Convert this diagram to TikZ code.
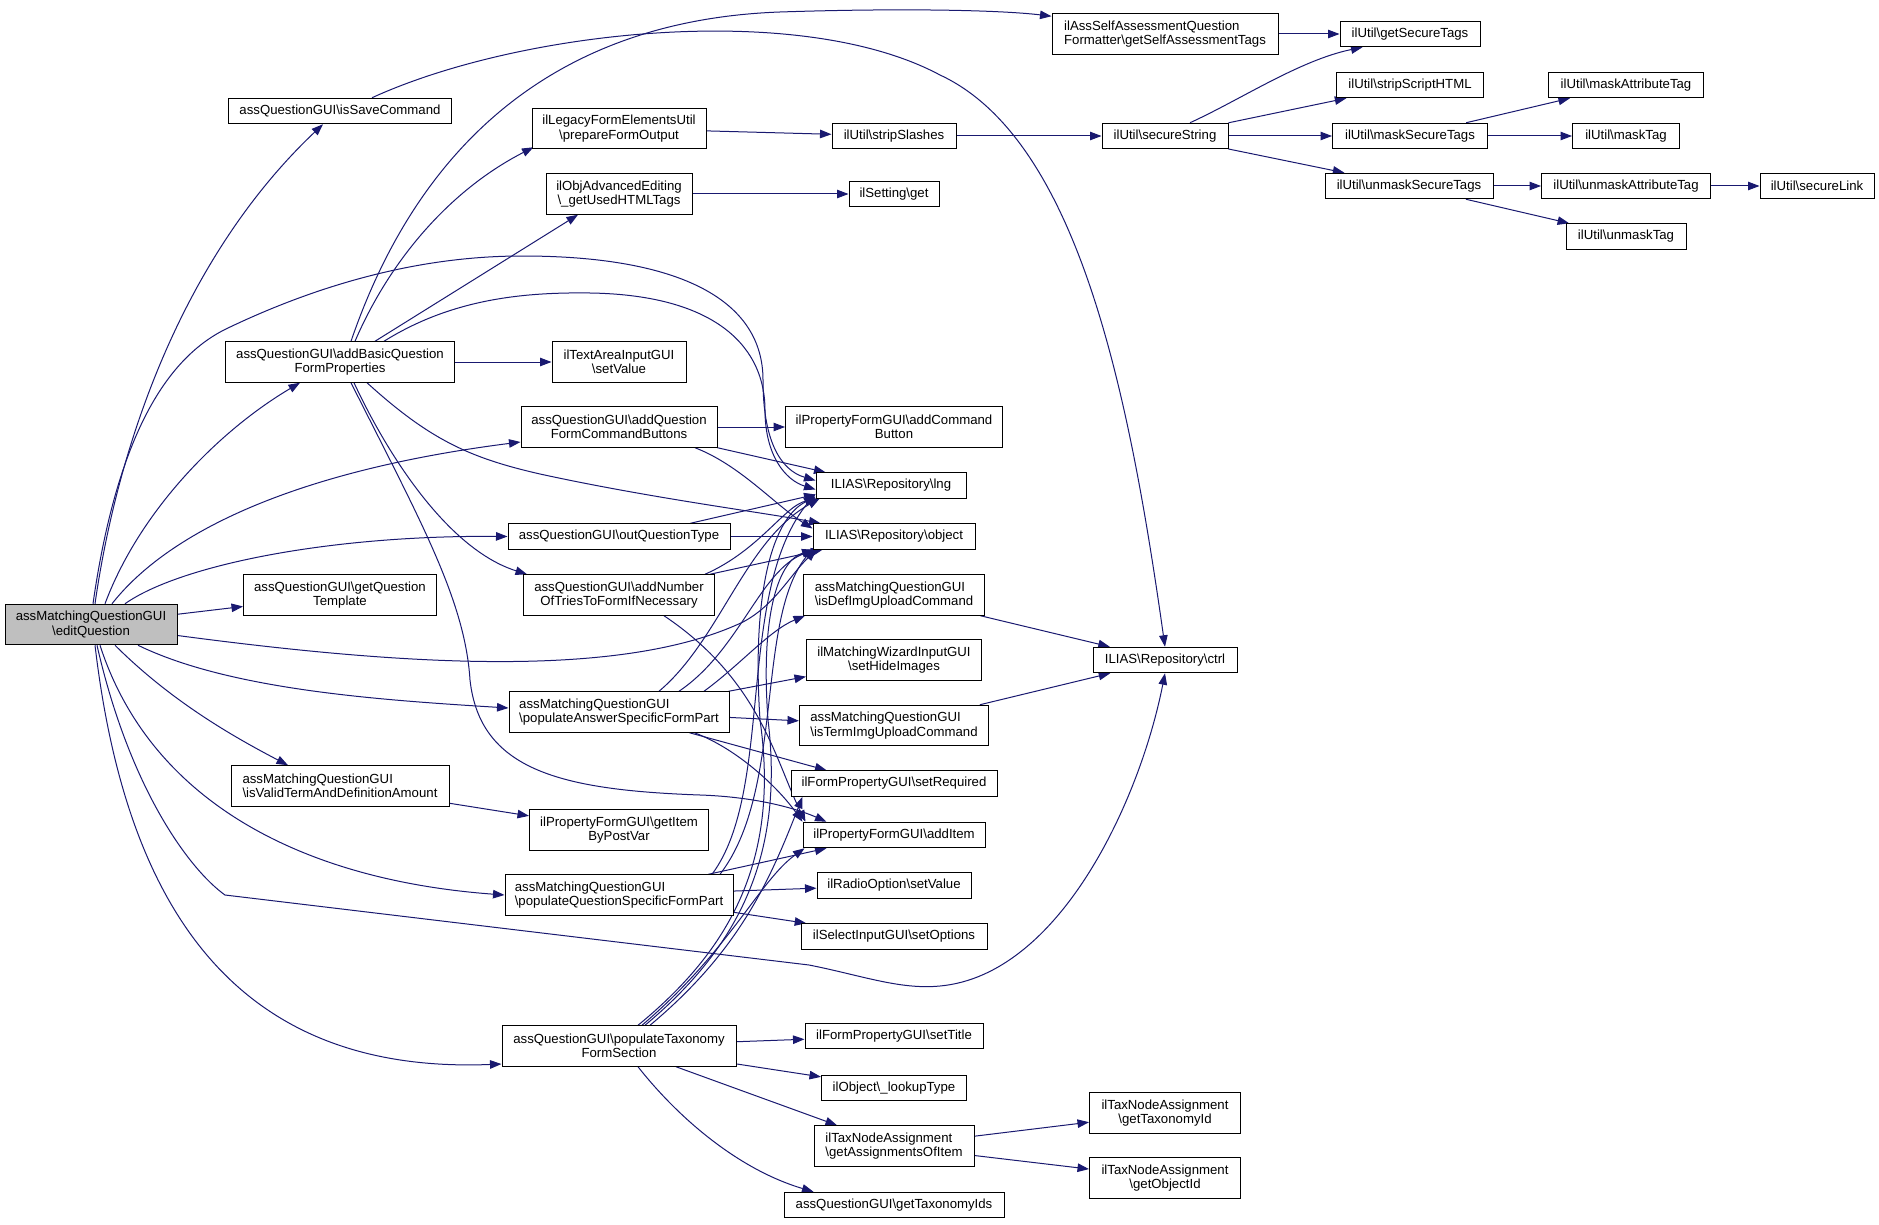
\documentclass[tikz,border=0pt]{standalone}
\usepackage{fontspec}
\setmainfont{Liberation Sans}
\usetikzlibrary{arrows.meta,calc}
\pgfdeclarelayer{background}
\pgfsetlayers{background,main}
\definecolor{edgeblue}{RGB}{25,25,112}
\definecolor{nodegrey}{RGB}{191,191,191}
\newcommand{\bsl}{\textbackslash}
\begin{document}
\begin{tikzpicture}[x=1pt,y=-1pt,
  box/.style={draw=black,line width=1pt,fill=white,inner sep=0pt,align=center,font=\fontsize{13.2}{14.5}\selectfont},
  b1/.style={box,minimum height=25.5pt},
  b2/.style={box,minimum height=40.5pt},
  wd/.style={minimum width=#1pt},
  e/.style={draw=edgeblue,line width=1pt,-{Triangle[length=11.5pt,width=8.5pt]}}]
\useasboundingbox (0,0) rectangle (1879,1225);
% nodes
\node[b2,wd=172,fill=nodegrey] (E) at (91,624.5) {assMatchingQuestionGUI\\\bsl editQuestion};
\node[b1,wd=223] (S) at (340,111) {assQuestionGUI\bsl isSaveCommand};
\node[b2,wd=229] (B) at (340,362) {assQuestionGUI\bsl addBasicQuestion\\FormProperties};
\node[b2,wd=193] (G) at (340,595) {assQuestionGUI\bsl getQuestion\\Template};
\node[b2,wd=218,align=left] (V) at (340,786) {assMatchingQuestionGUI\\\bsl isValidTermAndDefinitionAmount};
\node[b2,wd=174] (P) at (619,128.5) {ilLegacyFormElementsUtil\\\bsl prepareFormOutput};
\node[b2,wd=146] (H) at (619,194) {ilObjAdvancedEditing\\\bsl\_getUsedHTMLTags};
\node[b2,wd=134] (TA) at (619,362) {ilTextAreaInputGUI\\\bsl setValue};
\node[b2,wd=196] (C) at (619,427) {assQuestionGUI\bsl addQuestion\\FormCommandButtons};
\node[b1,wd=222] (O) at (619,536.5) {assQuestionGUI\bsl outQuestionType};
\node[b2,wd=191] (N) at (619,595) {assQuestionGUI\bsl addNumber\\OfTriesToFormIfNecessary};
\node[b2,wd=220,align=left] (A) at (619,712) {assMatchingQuestionGUI\\\bsl populateAnswerSpecificFormPart};
\node[b2,wd=179] (GI) at (619,830) {ilPropertyFormGUI\bsl getItem\\ByPostVar};
\node[b2,wd=228,align=left] (Q) at (619,895) {assMatchingQuestionGUI\\\bsl populateQuestionSpecificFormPart};
\node[b2,wd=234] (T) at (619,1046) {assQuestionGUI\bsl populateTaxonomy\\FormSection};
\node[b2,wd=226,align=left] (SA) at (1165,34) {ilAssSelfAssessmentQuestion\\Formatter\bsl getSelfAssessmentTags};
\node[b1,wd=124] (SS) at (894,136) {ilUtil\bsl stripSlashes};
\node[b1,wd=90] (SG) at (894,194) {ilSetting\bsl get};
\node[b2,wd=217] (ACB) at (894,427) {ilPropertyFormGUI\bsl addCommand\\Button};
\node[b1,wd=150] (LNG) at (891,485.5) {ILIAS\bsl Repository\bsl lng};
\node[b1,wd=162] (OBJ) at (894,536.5) {ILIAS\bsl Repository\bsl object};
\node[b2,wd=181,align=left] (DI) at (894,595) {assMatchingQuestionGUI\\\bsl isDefImgUploadCommand};
\node[b2,wd=175] (HI) at (894,660) {ilMatchingWizardInputGUI\\\bsl setHideImages};
\node[b2,wd=189,align=left] (TI) at (894,725.5) {assMatchingQuestionGUI\\\bsl isTermImgUploadCommand};
\node[b1,wd=206] (SR) at (894,783.5) {ilFormPropertyGUI\bsl setRequired};
\node[b1,wd=182] (AI) at (894,835) {ilPropertyFormGUI\bsl addItem};
\node[b1,wd=154] (RV) at (894,885.5) {ilRadioOption\bsl setValue};
\node[b1,wd=186] (SO) at (894,936.5) {ilSelectInputGUI\bsl setOptions};
\node[b1,wd=178] (ST) at (894,1036) {ilFormPropertyGUI\bsl setTitle};
\node[b1,wd=145] (LT) at (894,1088) {ilObject\bsl\_lookupType};
\node[b2,wd=160,align=left] (GA) at (894,1146) {ilTaxNodeAssignment\\\bsl getAssignmentsOfItem};
\node[b1,wd=220] (GT) at (894,1205) {assQuestionGUI\bsl getTaxonomyIds};
\node[b1,wd=144] (CTRL) at (1165,660) {ILIAS\bsl Repository\bsl ctrl};
\node[b2,wd=151] (GTI) at (1165,1113) {ilTaxNodeAssignment\\\bsl getTaxonomyId};
\node[b2,wd=151] (GO) at (1165,1178) {ilTaxNodeAssignment\\\bsl getObjectId};
\node[b1,wd=126] (SST) at (1165,136) {ilUtil\bsl secureString};
\node[b1,wd=140] (GST) at (1410,34) {ilUtil\bsl getSecureTags};
\node[b1,wd=147] (SSH) at (1410,85) {ilUtil\bsl stripScriptHTML};
\node[b1,wd=155] (MST) at (1410,136) {ilUtil\bsl maskSecureTags};
\node[b1,wd=168] (UST) at (1409,186) {ilUtil\bsl unmaskSecureTags};
\node[b1,wd=155] (MAT) at (1626,85) {ilUtil\bsl maskAttributeTag};
\node[b1,wd=107] (MT) at (1626,136) {ilUtil\bsl maskTag};
\node[b1,wd=169] (UAT) at (1626,186) {ilUtil\bsl unmaskAttributeTag};
\node[b1,wd=120] (UT) at (1626,236.5) {ilUtil\bsl unmaskTag};
\node[b1,wd=114] (SL) at (1817,186) {ilUtil\bsl secureLink};
% edges
\begin{pgfonlayer}{background}
\fill[white] (0,0) rectangle (1879,1225);
% from editQuestion
\draw[e] ($(E.north)+(4,0)$) .. controls (120,430) and (190,250) .. ($(S.south)+(-17,0)$);
\draw[e] ($(E.north)+(14,0)$) .. controls (140,510) and (220,430) .. ($(B.south)+(-40,0)$);
\draw[e] ($(E.north)+(21,0)$) .. controls (170,530) and (300,470) .. ($(C.west)+(0,15)$);
\draw[e] ($(E.north)+(34,0)$) .. controls (180,565) and (330,535) .. (O.west);
\draw[e] (E) -- (G);
\draw[e] ($(E.north)+(2,0)$) .. controls (115,450) and (160,360) .. (228,328) .. controls (320,284) and (420,256) .. (522,256) .. controls (680,256) and (763,300) .. (763,380) .. controls (763,440) and (780,470) .. ($(LNG.west)+(0,-5)$);
\draw[e] ($(E.east)+(0,11)$) .. controls (400,665) and (620,680) .. (743,622) .. controls (775,605) and (790,575) .. ($(OBJ.south west)+(4,0)$);
\draw[e] ($(E.south)+(47,0)$) .. controls (230,690) and (380,700) .. ($(A.west)+(0,-4)$);
\draw[e] ($(E.south)+(24,0)$) .. controls (170,700) and (230,735) .. ($(V.north)+(-52,0)$);
\draw[e] ($(E.south)+(9,0)$) .. controls (150,800) and (300,880) .. (Q.west);
\draw[e] ($(E.south)+(6,0)$) .. controls (130,790) and (190,870) .. (225,895) -- (809,965) .. controls (860,975) and (900,990) .. (940,986) .. controls (1060,975) and (1140,800) .. (CTRL.south);
\draw[e] ($(E.south)+(4,0)$) .. controls (125,900) and (230,1075) .. ($(T.west)+(0,18)$);
% from isSaveCommand
\draw[e] ($(S.north)+(32,0)$) .. controls (520,30) and (800,0) .. (940,75) .. controls (1080,140) and (1130,400) .. (CTRL.north);
% from addBasicQuestionFormProperties
\draw[e] ($(B.north)+(11,0)$) .. controls (420,140) and (560,20) .. (780,12) .. controls (900,8) and (1000,10) .. ($(SA.north west)+(0,3)$);
\draw[e] ($(B.north)+(15,0)$) .. controls (390,260) and (450,190) .. ($(P.south west)+(2,-2)$);
\draw[e] ($(B.north)+(35,0)$) -- ($(H.south)+(-41,0)$);
\draw[e] ($(B.north)+(44,0)$) .. controls (450,300) and (520,292) .. (590,293) .. controls (720,295) and (765,350) .. (765,410) .. controls (765,455) and (785,480) .. ($(LNG.west)+(0,4)$);
\draw[e] (B) -- (TA);
\draw[e] ($(B.south)+(27,0)$) .. controls (430,440) and (470,458) .. (540,474) .. controls (650,498) and (760,512) .. ($(OBJ.north west)+(8,0)$);
\draw[e] ($(B.south)+(14,0)$) .. controls (390,460) and (450,550) .. ($(N.north west)+(4,0)$);
\draw[e] ($(B.south)+(11,0)$) .. controls (420,520) and (465,600) .. (470,680) .. controls (480,770) and (560,790) .. (700,795) .. controls (760,797) and (800,810) .. ($(AI.north west)+(24,0)$);
% from addQuestionFormCommandButtons
\draw[e] (C) -- (ACB);
\draw[e] (C.south east) -- ($(LNG.north west)+(10,0)$);
\draw[e] ($(C.south)+(76,0)$) .. controls (740,465) and (775,505) .. ($(OBJ.west)+(0,-8)$);
% from outQuestionType
\draw[e] ($(O.north east)+(-40,0)$) -- ($(LNG.west)+(0,9)$);
\draw[e] (O) -- (OBJ);
% from addNumberOfTries
\draw[e] ($(N.north east)+(-10,0)$) .. controls (760,550) and (785,505) .. ($(LNG.south west)+(2,0)$);
\draw[e] ($(N.north east)+(-5,0)$) -- ($(OBJ.south west)+(10,0)$);
\draw[e] ($(N.south)+(45,0)$) .. controls (760,680) and (775,760) .. ($(AI.north west)+(3,0)$);
% from populateAnswerSpecificFormPart
\draw[e] ($(A.north)+(40,0)$) .. controls (720,640) and (745,540) .. ($(LNG.south west)+(4,0)$);
\draw[e] ($(A.north)+(60,0)$) .. controls (740,650) and (760,570) .. ($(OBJ.south west)+(2,0)$);
\draw[e] (A) -- (HI);
\draw[e] (A) -- (TI);
\draw[e] ($(A.north)+(85,0)$) .. controls (740,665) and (770,630) .. ($(DI.south west)+(2,0)$);
\draw[e] ($(A.south east)+(-40,0)$) -- ($(SR.north west)+(36,0)$);
\draw[e] ($(A.south east)+(-35,0)$) .. controls (740,750) and (780,790) .. (AI.north west);
% isValid
\draw[e] (V) -- (GI);
% from populateQuestionSpecificFormPart
\draw[e] ($(Q.north)+(93,0)$) .. controls (775,790) and (735,590) .. ($(LNG.south west)+(0,-5)$);
\draw[e] ($(Q.north)+(101,0)$) .. controls (785,790) and (755,620) .. ($(OBJ.south west)+(1,-2)$);
\draw[e] ($(Q.north east)+(-25,0)$) -- ($(AI.south west)+(24,0)$);
\draw[e] (Q) -- (RV);
\draw[e] (Q) -- (SO);
% from populateTaxonomyFormSection
\draw[e] ($(T.north)+(19,0)$) .. controls (730,950) and (780,860) .. (760,720) .. controls (752,600) and (770,520) .. ($(LNG.south west)+(0,-2)$);
\draw[e] ($(T.north)+(26,0)$) .. controls (735,950) and (785,860) .. (768,720) .. controls (760,610) and (780,560) .. ($(OBJ.south west)+(1,0)$);
\draw[e] ($(T.north)+(31,0)$) .. controls (740,950) and (770,880) .. ($(SR.south west)+(12,0)$);
\draw[e] ($(T.north)+(23,0)$) .. controls (730,950) and (760,880) .. ($(AI.south west)+(2,0)$);
\draw[e] (T) -- (ST);
\draw[e] (T) -- (LT);
\draw[e] (T) -- (GA);
\draw[e] ($(T.south)+(19,0)$) .. controls (680,1120) and (740,1170) .. ($(GT.north west)+(30,0)$);
% lower right
\draw[e] (GA) -- (GTI);
\draw[e] (GA) -- (GO);
\draw[e] (DI) -- (CTRL);
\draw[e] (TI) -- (CTRL);
% upper chain
\draw[e] (P) -- (SS);
\draw[e] (H) -- (SG);
\draw[e] (SS) -- (SST);
\draw[e] (SA) -- (GST);
\draw[e] ($(SST.north)+(25,0)$) .. controls (1240,100) and (1300,60) .. ($(GST.south west)+(23,0)$);
\draw[e] (SST) -- (SSH);
\draw[e] (SST) -- (MST);
\draw[e] (SST) -- (UST);
\draw[e] (MST) -- (MAT);
\draw[e] (MST) -- (MT);
\draw[e] (UST) -- (UAT);
\draw[e] (UST) -- (UT);
\draw[e] (UAT) -- (SL);
\end{pgfonlayer}
\end{tikzpicture}
\end{document}
